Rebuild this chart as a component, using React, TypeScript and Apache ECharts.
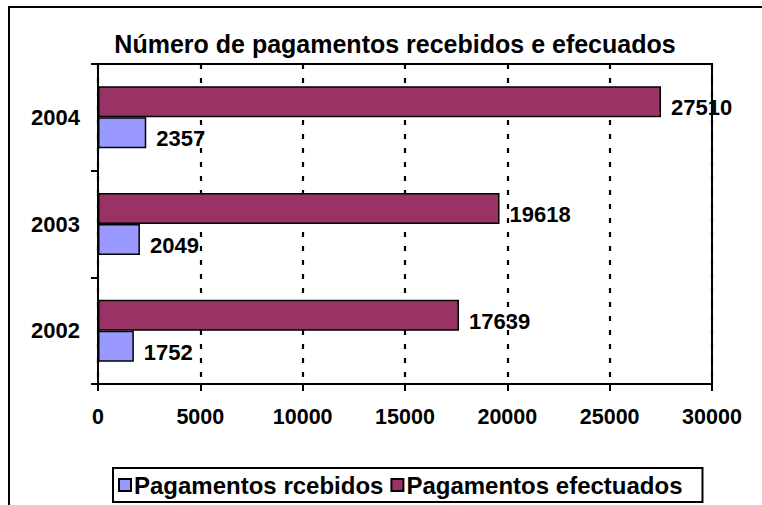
import React, { useEffect, useRef } from "react";
import * as echarts from "echarts";

const years = ["2002", "2003", "2004"];
const recebidos = [1752, 2049, 2357];
const efectuados = [17639, 19618, 27510];
const seriesNames = ["Pagamentos rcebidos", "Pagamentos efectuados"];
const titleText = "Número de pagamentos recebidos e efecuados";

const FONT = "'Liberation Sans', Arial, sans-serif";

export default function App() {
  const ref = useRef<HTMLDivElement>(null);
  useEffect(() => {
    if (!ref.current) return;
    const chart = echarts.init(ref.current, null, { renderer: "svg" });
    const labelStyle = {
      show: true,
      position: "right" as const,
      distance: 10,
      offset: [0, 6],
      color: "#000",
      fontFamily: FONT,
      fontWeight: "bold" as const,
      fontSize: 22,
    };
    chart.setOption({
      animation: false,
      backgroundColor: "#fff",
      title: {
        text: titleText,
        left: 390,
        textAlign: "center",
        top: 26,
        textStyle: { fontFamily: FONT, fontWeight: "bold", fontSize: 25, color: "#000" },
      },
      graphic: [
        {
          type: "rect",
          shape: { x: 9, y: 7, width: 900, height: 700 },
          style: { fill: "none", stroke: "#000", lineWidth: 2 },
          silent: true,
        },
      ],
      legend: {
        left: 113,
        top: 468,
        padding: [5, 20, 5, 5],
        borderColor: "#000",
        borderWidth: 2,
        itemWidth: 12,
        itemHeight: 12,
        itemGap: 7,
        icon: "rect",
        data: seriesNames,
        textStyle: {
          fontFamily: FONT,
          fontWeight: "bold",
          fontSize: 24,
          lineHeight: 24,
          color: "#000",
          padding: [0, 0, 0, -2],
        },
      },
      grid: {
        left: 98,
        top: 64,
        right: 50,
        bottom: 121,
        show: true,
        borderColor: "#000",
        borderWidth: 2,
        backgroundColor: "transparent",
      },
      xAxis: {
        type: "value",
        min: 0,
        max: 30000,
        interval: 5000,
        axisLine: { show: true, lineStyle: { color: "#000", width: 2 } },
        axisTick: { show: true, length: 7, lineStyle: { color: "#000", width: 2 } },
        axisLabel: {
          margin: 22,
          color: "#000",
          fontFamily: FONT,
          fontWeight: "bold",
          fontSize: 21.5,
          formatter: (v: number) => String(v),
        },
        splitLine: { show: true, lineStyle: { color: "#000", width: 2.2, type: [5, 9] } },
      },
      yAxis: {
        type: "category",
        data: years,
        axisLine: { show: true, lineStyle: { color: "#000", width: 2 } },
        axisTick: { show: true, length: 7, lineStyle: { color: "#000", width: 2 } },
        axisLabel: { margin: 18, color: "#000", fontFamily: FONT, fontWeight: "bold", fontSize: 22 },
        splitLine: { show: false },
      },
      series: [
        {
          name: seriesNames[1],
          type: "bar",
          data: efectuados,
          barWidth: 31,
          barGap: "0%",
          itemStyle: { color: "#993366", borderColor: "#000", borderWidth: 1.5 },
          label: labelStyle,
        },
        {
          name: seriesNames[0],
          type: "bar",
          data: recebidos,
          barWidth: 31,
          barGap: "0%",
          itemStyle: { color: "#9999FF", borderColor: "#000", borderWidth: 1.5 },
          label: labelStyle,
        },
      ],
    });
    return () => chart.dispose();
  }, []);
  return (
    <div style={{ position: "fixed", left: 0, top: 0, width: 762, height: 505 }}>
      <div ref={ref} style={{ width: 762, height: 505 }} />
    </div>
  );
}
